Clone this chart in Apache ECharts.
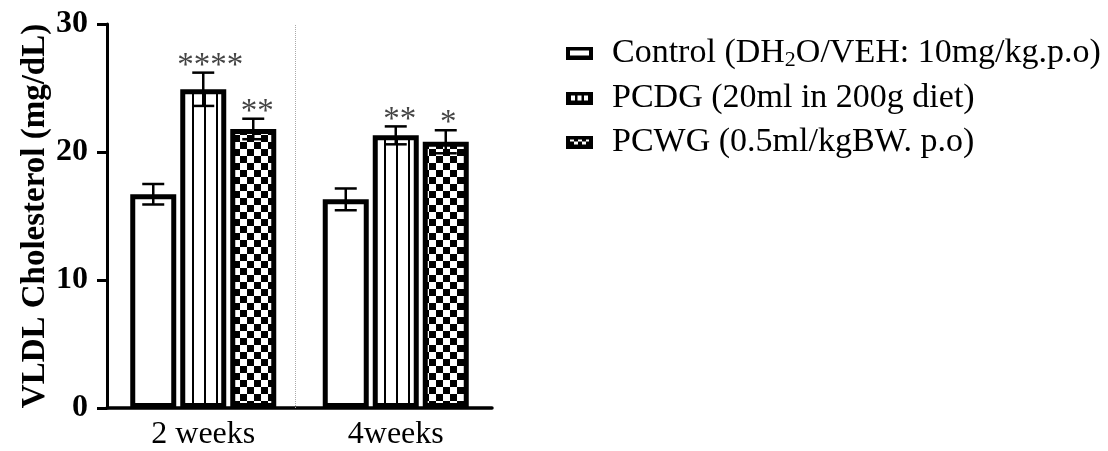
<!DOCTYPE html>
<html><head><meta charset="utf-8">
<script src="https://cdn.jsdelivr.net/npm/echarts@6/dist/echarts.min.js"></script>
<style>html,body{margin:0;padding:0;background:#fff}#c{width:1108px;height:451px}</style>
</head><body><div id="c"></div>
<script>
// ---- data ----
const categories = ['2 weeks', '4weeks'];
const seriesNames = ['Control (DH2O/VEH: 10mg/kg.p.o)', 'PCDG (20ml in 200g diet)', 'PCWG (0.5ml/kgBW. p.o)'];
const controlMean = [16.7, 16.3];
const controlErr = [0.8, 0.85];
const pcdgMean = [24.9, 21.3];
const pcdgErr = [1.3, 0.7];
const pcwgMean = [21.8, 20.8];
const pcwgErr = [0.8, 0.9];
const controlStars = ['', ''];
const pcdgStars = ['****', '**'];
const pcwgStars = ['**', '*'];
const yTicks = [0, 10, 20, 30];

const FONT = 'Liberation Serif';

// ---- patterns ----
function makeCanvas(w, h, draw) {
  const c = document.createElement('canvas'); c.width = w; c.height = h;
  const ctx = c.getContext('2d'); draw(ctx); return c;
}
const stripeCanvas = makeCanvas(12, 4, ctx => {
  ctx.fillStyle = '#fff'; ctx.fillRect(0, 0, 12, 4);
  ctx.fillStyle = '#000'; ctx.fillRect(0, 0, 2, 4);
});
const checkCanvas = makeCanvas(14, 14, ctx => {
  ctx.fillStyle = '#fff'; ctx.fillRect(0, 0, 14, 14);
  ctx.fillStyle = '#000';
  for (let x = 0; x < 14; x++) for (let y = 0; y < 14; y++) {
    const a = ((x - 2 + 14) % 14) < 7, b = ((y - 2 + 14) % 14) < 7;
    if (a === b) ctx.fillRect(x, y, 1, 1);
  }
});
const iconControl = makeCanvas(27, 13, ctx => {
  ctx.fillStyle = '#000'; ctx.fillRect(0, 0, 27, 13);
  ctx.fillStyle = '#fff'; ctx.fillRect(4, 4, 19, 5);
}).toDataURL();
const iconPcdg = makeCanvas(27, 13, ctx => {
  ctx.fillStyle = '#000'; ctx.fillRect(0, 0, 27, 13);
  ctx.fillStyle = '#fff';
  ctx.fillRect(5, 4, 4, 5); ctx.fillRect(11.5, 4, 4, 5); ctx.fillRect(18, 4, 4, 5);
}).toDataURL();
const iconPcwg = makeCanvas(27, 13, ctx => {
  ctx.fillStyle = '#000'; ctx.fillRect(0, 0, 27, 13);
  ctx.fillStyle = '#fff';
  ctx.fillRect(4, 4, 4, 2); ctx.fillRect(8, 6, 4, 3); ctx.fillRect(12, 4, 4, 2);
  ctx.fillRect(16, 6, 4, 3); ctx.fillRect(20, 4, 3, 2);
}).toDataURL();

const fills = ['#ffffff', {image: stripeCanvas, repeat: 'repeat'}, {image: checkCanvas, repeat: 'repeat'}];
const means = [controlMean, pcdgMean, pcwgMean];
const errs = [controlErr, pcdgErr, pcwgErr];
const stars = [controlStars, pcdgStars, pcwgStars];
const icons = [iconControl, iconPcdg, iconPcwg];

const BAR_W = 46, BAR_STEP = 50;

const barSeries = seriesNames.map((name, i) => ({
  name, type: 'bar', data: means[i], barWidth: BAR_W, barGap: '8.7%',
  itemStyle: {color: fills[i], borderColor: '#000', borderWidth: 5},
  z: 2
}));

const errSeries = seriesNames.map((name, i) => ({
  name: name + ' err', type: 'custom', z: 5,
  data: categories.map((c, k) => [k, means[i][k], errs[i][k]]),
  renderItem: function (params, api) {
    const k = api.value(0), m = api.value(1), e = api.value(2);
    const st = stars[i][k];
    const cx = api.coord([k, m])[0] + (i - 1) * BAR_STEP;
    const top = api.coord([k, m + e])[1];
    const bot = api.coord([k, m - e])[1];
    const ls = {stroke: '#000', lineWidth: 2.5};
    const children = [
      {type: 'line', shape: {x1: cx, y1: top, x2: cx, y2: bot}, style: ls},
      {type: 'line', shape: {x1: cx - 11, y1: top, x2: cx + 11, y2: top}, style: ls},
      {type: 'line', shape: {x1: cx - 11, y1: bot, x2: cx + 11, y2: bot}, style: ls}
    ];
    if (st) children.push({type: 'text', style: {text: st, x: cx + 1 + st.length * 1.5, y: top + 10, align: 'center', verticalAlign: 'bottom', fontSize: 33, fontFamily: FONT, fill: '#444'}});
    return {type: 'group', children};
  }
}));

const chart = echarts.init(document.getElementById('c'), null, {renderer: 'canvas'});
chart.setOption({
  animation: false,
  backgroundColor: '#fff',
  grid: {left: 107, right: 616, top: 24, bottom: 41},
  legend: {
    orient: 'vertical', left: 561, top: 31, itemGap: 10, itemWidth: 27, itemHeight: 13,
    data: seriesNames.map((n, i) => ({name: n, icon: 'image://' + icons[i]})),
    formatter: n => n.replace('DH2O', 'DH{sub|2}O'),
    textStyle: {fontFamily: FONT, fontSize: 34, color: '#000', padding: [0, 0, 0, 14],
      rich: {sub: {fontFamily: FONT, fontSize: 22, color: '#000', verticalAlign: 'bottom', padding: [14, 0, 0, 0]}}}
  },
  xAxis: [{
    type: 'category', data: categories,
    axisLine: {lineStyle: {color: '#000', width: 3.5}},
    axisTick: {show: false},
    axisLabel: {fontFamily: FONT, fontSize: 32, color: '#000', margin: 11}
  }, {type: 'value', min: 0, max: 2, show: false}],
  yAxis: {
    type: 'value', min: yTicks[0], max: yTicks[yTicks.length - 1], interval: 10,
    name: 'VLDL Cholesterol (mg/dL)', nameLocation: 'middle', nameGap: 54,
    nameTextStyle: {fontFamily: FONT, fontSize: 33, fontWeight: 'bold', color: '#000'},
    axisLine: {show: true, lineStyle: {color: '#000', width: 3}},
    axisTick: {show: true, length: 10, lineStyle: {color: '#000', width: 3}},
    axisLabel: {fontFamily: FONT, fontSize: 32, fontWeight: 'bold', color: '#000', margin: 19},
    splitLine: {show: false}
  },
  series: [
    ...barSeries,
    ...errSeries,
    {type: 'line', xAxisIndex: 1, data: [], silent: true,
     markLine: {symbol: 'none', silent: true, label: {show: false},
       lineStyle: {type: 'dotted', color: '#aaa', width: 1}, data: [{xAxis: 0.985}]}}
  ]
});
</script></body></html>
